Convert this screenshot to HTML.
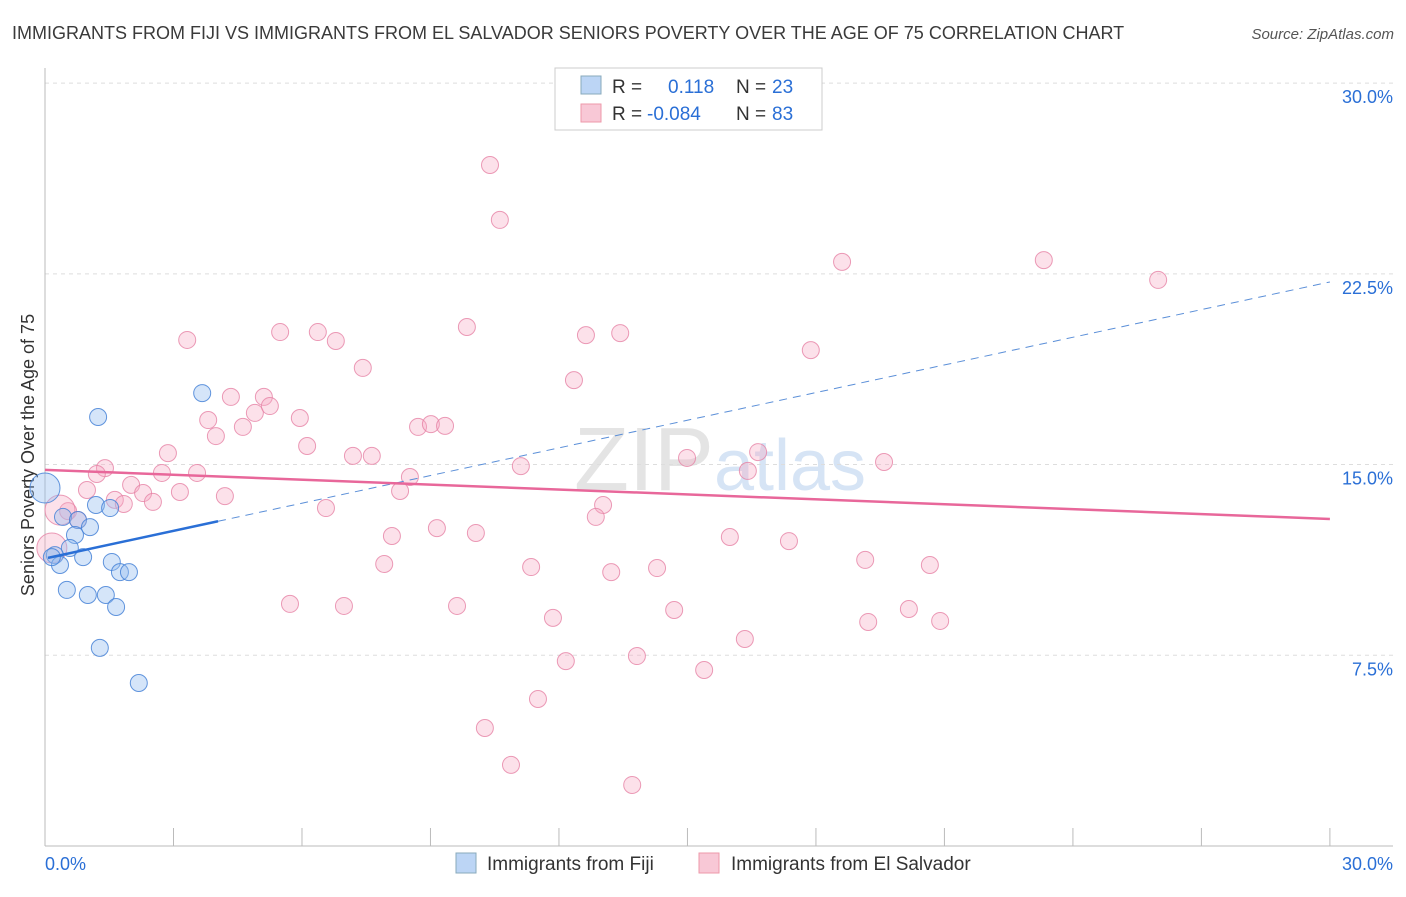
<!DOCTYPE html>
<html><head><meta charset="utf-8"><style>
body{margin:0;background:#fff;font-family:"Liberation Sans",sans-serif;}
svg text{font-family:"Liberation Sans",sans-serif;}
</style></head><body>
<svg id="c" width="1406" height="892">
<text x="12" y="39" font-size="18" fill="#3a3a3a">IMMIGRANTS FROM FIJI VS IMMIGRANTS FROM EL SALVADOR SENIORS POVERTY OVER THE AGE OF 75 CORRELATION CHART</text>
<text x="1394" y="39" font-size="15" fill="#555" text-anchor="end" font-style="italic">Source: ZipAtlas.com</text>
<text x="720" y="490" font-size="90" fill="#e4e4e4" text-anchor="middle" font-family="Liberation Serif">ZIP<tspan fill="#d6e4f5" font-family="Liberation Sans" font-size="72">atlas</tspan></text>
<text transform="translate(34,455) rotate(-90)" font-size="18" fill="#333" text-anchor="middle">Seniors Poverty Over the Age of 75</text>
<g id="grid"></g><g id="pts"></g><g id="lines"></g>
<g>
<rect x="555" y="68" width="267" height="62" fill="#fff" stroke="#ccc"/>
<rect x="581" y="76" width="20" height="18" fill="#bcd5f5" stroke="#8ab"/>
<rect x="581" y="104" width="20" height="18" fill="#f8c8d6" stroke="#e9a"/>
<text x="612" y="93" font-size="19" fill="#333">R = </text><text x="668" y="93" font-size="19" fill="#2a6fd6">0.118</text>
<text x="736" y="93" font-size="19" fill="#333">N = </text><text x="772" y="93" font-size="19" fill="#2a6fd6">23</text>
<text x="612" y="120" font-size="19" fill="#333">R = </text><text x="647" y="120" font-size="19" fill="#2a6fd6">-0.084</text>
<text x="736" y="120" font-size="19" fill="#333">N = </text><text x="772" y="120" font-size="19" fill="#2a6fd6">83</text>
</g>
<g>
<rect x="456" y="853" width="20" height="20" fill="#bcd5f5" stroke="#8ab"/>
<text x="487" y="870" font-size="19" fill="#333">Immigrants from Fiji</text>
<rect x="699" y="853" width="20" height="20" fill="#f8c8d6" stroke="#e9a"/>
<text x="731" y="870" font-size="19" fill="#333">Immigrants from El Salvador</text>
</g>
<text x="45" y="870" font-size="18" fill="#2a6fd6">0.0%</text>
<text x="1393" y="870" font-size="18" fill="#2a6fd6" text-anchor="end">30.0%</text>
</svg>
<script>
const fijiX=[0,1.24,3.67,0.42,0.77,1.19,1.52,1.05,0.70,0.58,0.23,0.35,0.89,1.56,1.75,1.96,0.51,1.00,1.42,1.66,1.28,2.19,0.16];
const fijiY=[14.08,16.87,17.81,12.94,12.82,13.41,13.29,12.54,12.23,11.72,11.44,11.05,11.36,11.17,10.77,10.77,10.07,9.87,9.87,9.40,7.79,6.41,11.36];
const fijiBig=[0];
const elsX=[10.39,10.62,18.61,23.32,25.99,3.32,5.49,6.37,6.79,9.85,12.63,13.43,17.88,7.42,12.35,4.34,5.11,3.81,4.90,5.25,5.95,4.62,3.99,8.71,9.01,9.34,6.12,2.87,7.19,7.63,16.65,14.99,19.59,11.11,1.40,1.21,2.73,3.55,16.41,8.52,0.98,2.01,2.29,3.15,8.29,4.20,1.63,1.84,2.52,13.03,0.54,0.35,0.77,6.56,12.86,9.15,10.06,8.10,15.99,17.37,0.16,19.15,7.92,11.35,13.22,14.29,20.66,5.72,6.98,9.62,14.69,11.86,20.17,19.22,20.90,16.34,13.82,12.16,15.39,11.51,10.27,10.88,13.71];
const elsY=[26.78,24.62,22.97,23.04,22.26,19.90,20.21,20.21,19.86,20.41,20.09,20.17,19.50,18.80,18.32,17.66,17.66,16.75,17.03,17.30,16.83,16.48,16.12,16.48,16.59,16.52,15.73,15.45,15.34,15.34,15.49,15.26,15.10,14.94,14.86,14.63,14.67,14.67,14.75,14.51,14.00,14.20,13.88,13.92,13.96,13.76,13.61,13.45,13.53,13.41,13.17,13.21,12.82,13.29,12.94,12.50,12.31,12.19,12.15,11.99,11.72,11.25,11.09,10.97,10.77,10.93,11.05,9.52,9.44,9.44,9.28,8.97,9.32,8.81,8.85,8.14,7.47,7.27,6.92,5.78,4.64,3.19,2.40];
const elsBig=[51,60];
const yTicks=[7.5,15,22.5,30];
const yTickLabels=["7.5%","15.0%","22.5%","30.0%"];
const xTicks=[0,3,6,9,12,15,18,21,24,27,30];
const fijiTrend=[[0.07,11.33],[4.04,12.77],[30,22.18]];
const elsTrend=[[0,14.79],[30,12.86]];
const X=v=>45+v*42.83, Y=v=>846-v*25.43;
const NS="http://www.w3.org/2000/svg";
function mk(t,a,p){const e=document.createElementNS(NS,t);for(const k in a)e.setAttribute(k,a[k]);p.appendChild(e);return e;}
const g=document.getElementById('grid');
yTicks.forEach((t,i)=>{
 const l=mk('line',{x1:45,x2:1393,y1:Y(t),y2:Y(t),stroke:'#ddd','stroke-dasharray':'4,4'},g);
 
 
 const tx=mk('text',{x:1393,y:Y(t)+20,'font-size':18,fill:'#2a6fd6','text-anchor':'end'},g);
 tx.textContent=yTickLabels[i];
 
 
});
const ax=mk('line',{x1:45,x2:45,y1:68,y2:846,stroke:'#bbb'},g);


const bx=mk('line',{x1:45,x2:1393,y1:846,y2:846,stroke:'#bbb'},g);


xTicks.forEach(t=>{const l=mk('line',{x1:X(t),x2:X(t),y1:828,y2:846,stroke:'#bbb'},g);
 
 });
const p=document.getElementById('pts');
elsX.forEach((x,i)=>{const big=elsBig.includes(i);
 const c=mk('circle',{cx:X(x),cy:Y(elsY[i]),r:big?15:8.5,fill:'rgba(245,170,195,0.35)',stroke:'rgba(230,130,165,0.8)','stroke-width':1},p);
 
 });
fijiX.forEach((x,i)=>{const big=fijiBig.includes(i);
 const c=mk('circle',{cx:X(x),cy:Y(fijiY[i]),r:big?15:8.5,fill:'rgba(150,190,240,0.4)',stroke:'rgba(70,130,215,0.85)','stroke-width':1},p);
 
 });
const L=document.getElementById('lines');
const a=mk('line',{x1:X(fijiTrend[0][0]),y1:Y(fijiTrend[0][1]),x2:X(fijiTrend[1][0]),y2:Y(fijiTrend[1][1]),stroke:'#2a6fd6','stroke-width':2.5},L);


const b=mk('line',{x1:X(fijiTrend[1][0]),y1:Y(fijiTrend[1][1]),x2:X(fijiTrend[2][0]),y2:Y(fijiTrend[2][1]),stroke:'#5b8fd8','stroke-width':1,'stroke-dasharray':'8,6'},L);


const c=mk('line',{x1:X(elsTrend[0][0]),y1:Y(elsTrend[0][1]),x2:X(elsTrend[1][0]),y2:Y(elsTrend[1][1]),stroke:'#e8679a','stroke-width':2.5},L);


</script>
</body></html>
